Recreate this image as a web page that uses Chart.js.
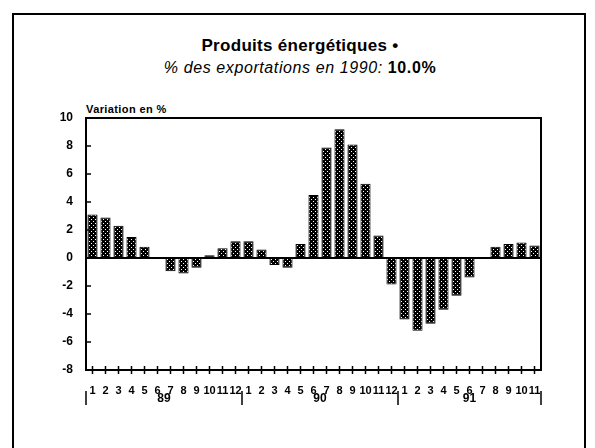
<!DOCTYPE html>
<html>
<head>
<meta charset="utf-8">
<script src="https://cdn.jsdelivr.net/npm/chart.js@4.4.1/dist/chart.umd.min.js"></script>
<style>
  body { margin: 0; background: #fff; }
  #wrap { position: relative; width: 595px; height: 448px; overflow: hidden; font-family: "Liberation Sans", Arial, sans-serif; }
  #frame { position: absolute; left: 12px; top: 13px; width: 570px; height: 460px; border: 2px solid #000; }
  #title { position: absolute; left: 0; top: 36px; width: 600px; text-align: center; font-weight: bold; font-size: 17px; letter-spacing: 0.3px; }
  #subtitle { position: absolute; left: 0; top: 59px; width: 600px; text-align: center; font-style: italic; font-size: 16px; letter-spacing: 0.6px; }
  #subtitle b { font-style: normal; }
  #ylab { position: absolute; left: 86px; top: 103px; font-weight: bold; font-size: 11px; letter-spacing: 0.4px; }
  canvas { position: absolute; left: 0; top: 0; }
</style>
</head>
<body>
<div id="wrap">
  <div id="frame"></div>
  <div id="title">Produits énergétiques •</div>
  <div id="subtitle">% des exportations en 1990: <b>10.0%</b></div>
  <div id="ylab">Variation en %</div>
  <canvas id="chart" width="595" height="448"></canvas>
</div>
<script>
  "use strict";

  // month tick labels, Jan 89 .. Nov 91
  var monthLabels = ["1","2","3","4","5","6","7","8","9","10","11","12",
                     "1","2","3","4","5","6","7","8","9","10","11","12",
                     "1","2","3","4","5","6","7","8","9","10","11"];

  // variation en %
  var values = [3.1, 2.9, 2.3, 1.5, 0.8, -0.05, -0.95, -1.1, -0.7, 0.2, 0.7, 1.2,
                1.2, 0.6, -0.5, -0.7, 1.0, 4.5, 7.9, 9.2, 8.1, 5.3, 1.6, -1.9,
                -4.4, -5.2, -4.7, -3.7, -2.7, -1.4, -0.05, 0.8, 1.0, 1.1, 0.9];

  var yearLabels = ["89", "90", "91"];
  var yearLengths = [12, 12, 11];

  var yMin = -8, yMax = 10, yStep = 2;

  // dotted fill like the print
  function makePattern() {
    var c = document.createElement("canvas");
    c.width = 4; c.height = 4;
    var g = c.getContext("2d");
    g.fillStyle = "#000";
    g.fillRect(0, 0, 4, 4);
    g.fillStyle = "#fff";
    g.fillRect(1, 1, 1, 1);
    g.fillRect(3, 3, 1, 1);
    return g.createPattern(c, "repeat");
  }

  var boxPlugin = {
    id: "box",
    afterDraw: function (chart) {
      var ctx = chart.ctx, a = chart.chartArea;
      var xs = chart.scales.x, ys = chart.scales.y;
      ctx.save();
      ctx.strokeStyle = "#000";
      ctx.lineWidth = 2;
      ctx.strokeRect(a.left, a.top, a.right - a.left, a.bottom - a.top);

      // zero line
      var y0 = ys.getPixelForValue(0);
      ctx.beginPath();
      ctx.moveTo(a.left, y0);
      ctx.lineTo(a.right, y0);
      ctx.stroke();

      ctx.lineWidth = 1.5;
      // inner y ticks
      ys.ticks.forEach(function (t) {
        var y = ys.getPixelForValue(t.value);
        ctx.beginPath();
        ctx.moveTo(a.left, y);
        ctx.lineTo(a.left + 5, y);
        ctx.stroke();
      });
      // x tick crosses
      for (var i = 0; i < monthLabels.length; i++) {
        var x = xs.getPixelForValue(i);
        ctx.beginPath();
        ctx.moveTo(x, a.bottom - 4);
        ctx.lineTo(x, a.bottom + 4);
        ctx.stroke();
      }

      // year labels and separators
      var step = xs.getPixelForValue(1) - xs.getPixelForValue(0);
      ctx.font = "bold 12px 'Liberation Sans', Arial, sans-serif";
      ctx.fillStyle = "#000";
      ctx.textAlign = "center";
      ctx.textBaseline = "middle";
      var start = 0;
      for (var k = 0; k < yearLabels.length; k++) {
        var end = start + yearLengths[k] - 1;
        var cx = (xs.getPixelForValue(start) + xs.getPixelForValue(end)) / 2;
        ctx.fillText(yearLabels[k], cx, a.bottom + 29);
        var sx = xs.getPixelForValue(start) - step / 2;
        ctx.beginPath();
        ctx.moveTo(sx, a.bottom + 21);
        ctx.lineTo(sx, a.bottom + 35);
        ctx.stroke();
        start = end + 1;
      }
      var ex = xs.getPixelForValue(start - 1) + step / 2;
      ctx.beginPath();
      ctx.moveTo(ex, a.bottom + 21);
      ctx.lineTo(ex, a.bottom + 35);
      ctx.stroke();
      ctx.restore();
    }
  };

  var ctx = document.getElementById("chart");

  var chart = new Chart(ctx, {
    type: "bar",
    data: {
      labels: monthLabels,
      datasets: [
        {
          data: values,
          backgroundColor: makePattern(),
          borderColor: "#000",
          borderWidth: 1,
          barPercentage: 0.78,
          categoryPercentage: 1.0,
        },
      ],
    },
    options: {
      responsive: false,
      animation: false,
      events: [],
      layout: { padding: { left: 0, right: 54, top: 118, bottom: 0 } },
      plugins: {
        legend: { display: false },
        tooltip: { enabled: false },
      },
      scales: {
        x: {
          border: { display: false },
          grid: { display: false },
          ticks: {
            color: "#000",
            autoSkip: false,
            maxRotation: 0,
            padding: 6,
            font: { family: "'Liberation Sans', Arial, sans-serif", size: 11, weight: "bold" },
          },
          afterFit: function (scale) { scale.height = 78; },
        },
        y: {
          min: yMin,
          max: yMax,
          border: { display: false },
          grid: { display: false, drawTicks: false },
          ticks: {
            stepSize: yStep,
            color: "#000",
            padding: 13,
            font: { family: "'Liberation Sans', Arial, sans-serif", size: 12, weight: "bold" },
          },
          afterFit: function (scale) { scale.width = 86; },
        },
      },
    },
    plugins: [boxPlugin],
  });
</script>
</body>
</html>
